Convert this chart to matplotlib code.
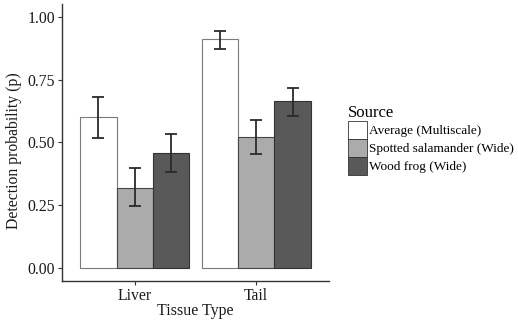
import numpy as np
import matplotlib.pyplot as plt
from matplotlib.patches import Patch

plt.rcParams['font.family'] = ['Liberation Serif', 'DejaVu Serif']

tissues = ['Liver', 'Tail']
sources = ['Average (Multiscale)', 'Spotted salamander (Wide)', 'Wood frog (Wide)']
colors = ['#FFFFFF', '#ABABAB', '#595959']
edges = ['#7a7a7a', '#444444', '#333333']

# detection probability per source, ordered like tissues
est = {
    'Average (Multiscale)': [0.60, 0.912],
    'Spotted salamander (Wide)': [0.318, 0.523],
    'Wood frog (Wide)': [0.457, 0.663],
}
lower = {
    'Average (Multiscale)': [0.518, 0.870],
    'Spotted salamander (Wide)': [0.248, 0.455],
    'Wood frog (Wide)': [0.381, 0.604],
}
upper = {
    'Average (Multiscale)': [0.682, 0.941],
    'Spotted salamander (Wide)': [0.398, 0.591],
    'Wood frog (Wide)': [0.535, 0.716],
}

fig = plt.figure(figsize=(5.18, 3.21), dpi=100)
ax = fig.add_axes([62 / 518, 1 - 281 / 321, (329 - 62) / 518, (281 - 4) / 321])

x = np.arange(1, len(tissues) + 1)
w = 0.3
for i, s in enumerate(sources):
    pos = x + (i - 1) * w
    vals = np.array(est[s])
    ax.bar(pos, vals, width=w, color=colors[i], edgecolor=edges[i], linewidth=0.8, zorder=2)
    err = [vals - np.array(lower[s]), np.array(upper[s]) - vals]
    ax.errorbar(pos, vals, yerr=err, fmt='none', ecolor='#2b2b2b', elinewidth=1.3,
                capsize=4.3, capthick=1.3, zorder=3)

ax.set_xlim(0.4, 2.6)
ax.set_ylim(-0.05, 1.05)
ax.set_xticks(x)
ax.set_xticklabels(tissues)
ax.set_yticks([0, 0.25, 0.5, 0.75, 1.0])
ax.set_yticklabels(['0.00', '0.25', '0.50', '0.75', '1.00'])
ax.tick_params(axis='both', labelsize=11.3, colors='#333333', labelcolor='#1a1a1a',
               length=3, width=0.8, pad=2)

for side in ['top', 'right']:
    ax.spines[side].set_visible(False)
for side in ['left', 'bottom']:
    ax.spines[side].set_color('#333333')
    ax.spines[side].set_linewidth(1.0)

ax.set_xlabel('Tissue Type', fontsize=11.5, color='#1a1a1a')
ax.xaxis.set_label_coords(0.5, -0.078)
ax.set_ylabel('Detection probability (p)', fontsize=11.3, color='#1a1a1a')
ax.yaxis.set_label_coords(-0.148, 0.47)

handles = [Patch(facecolor=colors[i], edgecolor='#333333', linewidth=0.6) for i in range(3)]
leg = fig.legend(handles, sources, loc='upper left', bbox_to_anchor=(345 / 518, 1 - 102 / 321),
                 frameon=False, fontsize=9.5, title='Source', title_fontsize=12,
                 handlelength=1.44, handleheight=1.72, labelspacing=0.0,
                 handletextpad=0.2, borderpad=0.2, borderaxespad=0)
leg._legend_box.align = 'left'

fig.savefig('out.png', dpi=100)
